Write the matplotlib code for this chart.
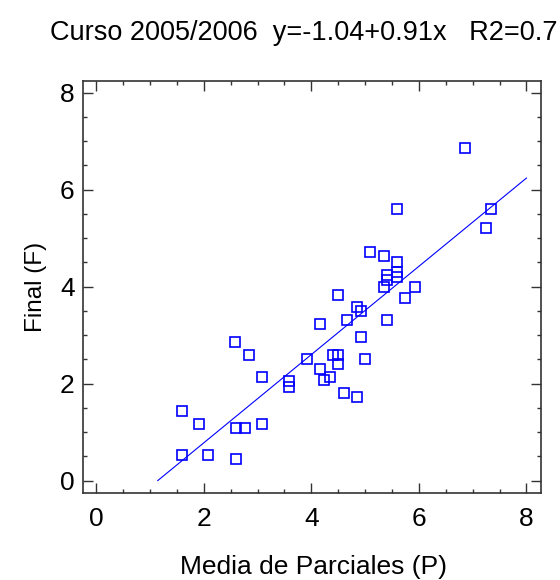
import numpy as np
import matplotlib.pyplot as plt
from matplotlib.ticker import MultipleLocator

plt.rcParams['font.family'] = ['Liberation Sans', 'DejaVu Sans']

# Media de parciales (P) y nota final (F) por alumno
parciales = [1.59, 1.91, 1.59, 2.08, 2.59, 2.76, 3.09, 2.59, 2.58, 2.84,
             3.08, 3.59, 3.59, 3.92, 4.16, 4.16, 4.24, 4.34, 4.41, 4.50,
             4.49, 4.60, 4.85, 4.67, 4.92, 4.99, 5.41, 4.85, 4.92, 4.49,
             5.74, 5.09, 5.35, 5.60, 5.41, 5.60, 5.60, 5.35, 5.41, 5.92,
             5.59, 6.85, 7.35, 7.25]
final = [1.44, 1.17, 0.53, 0.53, 1.08, 1.08, 1.17, 0.45, 2.86, 2.60,
         2.14, 2.05, 1.94, 2.50, 3.22, 2.30, 2.07, 2.13, 2.60, 2.60,
         2.41, 1.81, 1.72, 3.31, 2.97, 2.50, 3.31, 3.59, 3.50, 3.83,
         3.77, 4.72, 4.64, 4.50, 4.25, 4.30, 4.20, 3.99, 4.13, 4.00,
         5.61, 6.86, 5.61, 5.20]

# recta de regresion
intercepto = -1.04
pendiente = 0.91
r2 = '0.7'

W, H = 560, 580
fig = plt.figure(figsize=(W / 100, H / 100), dpi=100)
ax = fig.add_axes([0.148, 0.1505, 0.818, 0.7105])

ax.plot(parciales, final, linestyle='none', marker='s', markersize=7.6,
        markerfacecolor='none', markeredgecolor='#0000ff', markeredgewidth=1.2)

x0 = -intercepto / pendiente
xr = np.array([x0, 8.0])
ax.plot(xr, intercepto + pendiente * xr, color='#0000ff', linewidth=0.8)

ax.set_xlim(-0.25, 8.27)
ax.set_ylim(-0.25, 8.25)
ax.xaxis.set_major_locator(MultipleLocator(2))
ax.xaxis.set_minor_locator(MultipleLocator(0.5))
ax.yaxis.set_major_locator(MultipleLocator(2))
ax.yaxis.set_minor_locator(MultipleLocator(0.5))

for s in ax.spines.values():
    s.set_color('#333333')
    s.set_linewidth(1.2)

ax.tick_params(which='both', direction='in', top=True, right=True,
               color='#333333', width=1.0, labelsize=19)
ax.tick_params(which='major', length=7)
ax.tick_params(which='minor', length=3)
ax.tick_params(axis='x', pad=10)
ax.tick_params(axis='y', pad=6)

titulo = f'Curso 2005/2006  y={intercepto:.2f}+{pendiente:.2f}x   R2={r2}'
fig.text(50 / W, 1 - 40 / H, titulo, fontsize=19.5, ha='left', va='baseline')

fig.text(313 / W, 1 - 574 / H, 'Media de Parciales (P)',
         fontsize=19, ha='center', va='baseline')
fig.text(36 / W, 1 - 287 / H, 'Final (F)', fontsize=17.5,
         rotation=90, ha='center', va='center')

fig.savefig('out.png', dpi=100)
